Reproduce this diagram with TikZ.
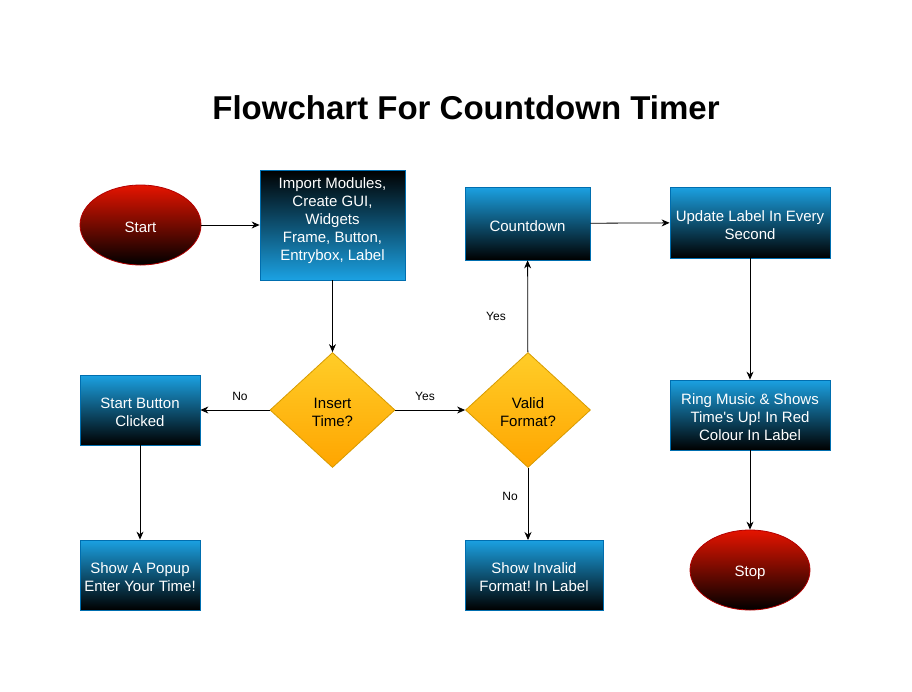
\documentclass[tikz,border=0pt]{standalone}
\usepackage{fontspec}
\setmainfont{Liberation Sans}
\frenchspacing
\usetikzlibrary{shapes.geometric,arrows.meta}
\definecolor{boxblue}{HTML}{1BA1E2}
\definecolor{boxedge}{HTML}{006EAF}
\definecolor{redtop}{HTML}{E51400}
\definecolor{rededge}{HTML}{B20000}
\definecolor{ytop}{HTML}{FFCD28}
\definecolor{ybot}{HTML}{FFA500}
\definecolor{yedge}{HTML}{D79B00}
\newcommand{\mystrut}{\rule{0pt}{16pt}}
\tikzset{
  plain/.style={inner sep=0pt, align=center, font=\fontsize{15}{18}\selectfont},
  base/.style={plain},
  bluebox/.style={base, rectangle, draw=boxedge, line width=0.8pt, top color=boxblue, bottom color=black, text=white},
  blueboxrev/.style={plain, rectangle, draw=boxedge, line width=0.8pt, top color=black, bottom color=boxblue, text=white},
  term/.style={base, ellipse, draw=rededge, line width=0.8pt, top color=redtop, bottom color=black, text=white},
  decide/.style={base, diamond, draw=yedge, line width=0.8pt, top color=ytop, bottom color=ybot, text=black},
  conn/.style={draw=black, line width=0.8pt, -{Stealth[length=8pt,width=7pt]}},
  lbl/.style={font=\fontsize{12}{14}\selectfont, inner sep=0pt}
}
\begin{document}
\begin{tikzpicture}[x=1pt,y=-1pt]
\useasboundingbox (0,0) rectangle (912,691);
\node[font=\fontsize{33}{40}\selectfont\bfseries, inner sep=0pt] (title) at (466,108) {Flowchart For Countdown Timer};

\node[term, minimum width=121pt, minimum height=80pt] (start) at (140.5,225) {\mystrut Start};
\node[blueboxrev, minimum width=145pt, minimum height=110pt] (import) at (332.5,225) {};
\node[plain, text=white] (importtxt) at (332.5,221) {Import Modules,\\Create GUI,\\Widgets\\Frame, Button,\\Entrybox, Label};
\node[bluebox, minimum width=125pt, minimum height=73pt] (count) at (527.5,223.5) {\mystrut Countdown};
\node[bluebox, minimum width=160pt, minimum height=71pt] (update) at (750,222.5) {\mystrut Update Label In Every\\Second};

\node[decide, minimum width=125pt, minimum height=115pt] (insert) at (332.5,410) {\mystrut Insert\\Time?};
\node[decide, minimum width=125pt, minimum height=115pt] (valid) at (528,410) {\mystrut Valid\\Format?};
\node[bluebox, minimum width=120pt, minimum height=70pt] (sbtn) at (140,410) {\mystrut Start Button\\Clicked};
\node[bluebox, minimum width=160pt, minimum height=70pt] (ring) at (750,415) {\mystrut Ring Music \& Shows\\Time\textquotesingle s Up! In Red\\Colour In Label};

\node[bluebox, minimum width=120pt, minimum height=70pt] (popup) at (140,575) {\mystrut Show A Popup\\Enter Your Time!};
\node[bluebox, minimum width=138pt, minimum height=70pt] (invalid) at (534,575) {\mystrut Show Invalid\\Format! In Label};
\node[term, minimum width=120pt, minimum height=80pt] (stop) at (750,570) {\mystrut Stop};

\coordinate (invtop) at (528,540);

\draw[conn] (start) -- (import);
\draw[conn] (import.south) -- (insert.north);
\draw[conn] (insert) -- (sbtn);
\draw[conn] (insert) -- (valid);
\draw[conn] (valid) -- (count);
\draw[conn] (valid.south) -- (invtop);
\draw[conn] (count) -- (update);
\draw[conn] (update) -- (ring);
\draw[conn] (ring) -- (stop);
\draw[conn] (sbtn) -- (popup);

\node[lbl] (lno1) at (240,396) {No};
\node[lbl] (lyes1) at (425,396) {Yes};
\node[lbl] (lyes2) at (496,316) {Yes};
\node[lbl] (lno2) at (510,496) {No};
\end{tikzpicture}
\end{document}
